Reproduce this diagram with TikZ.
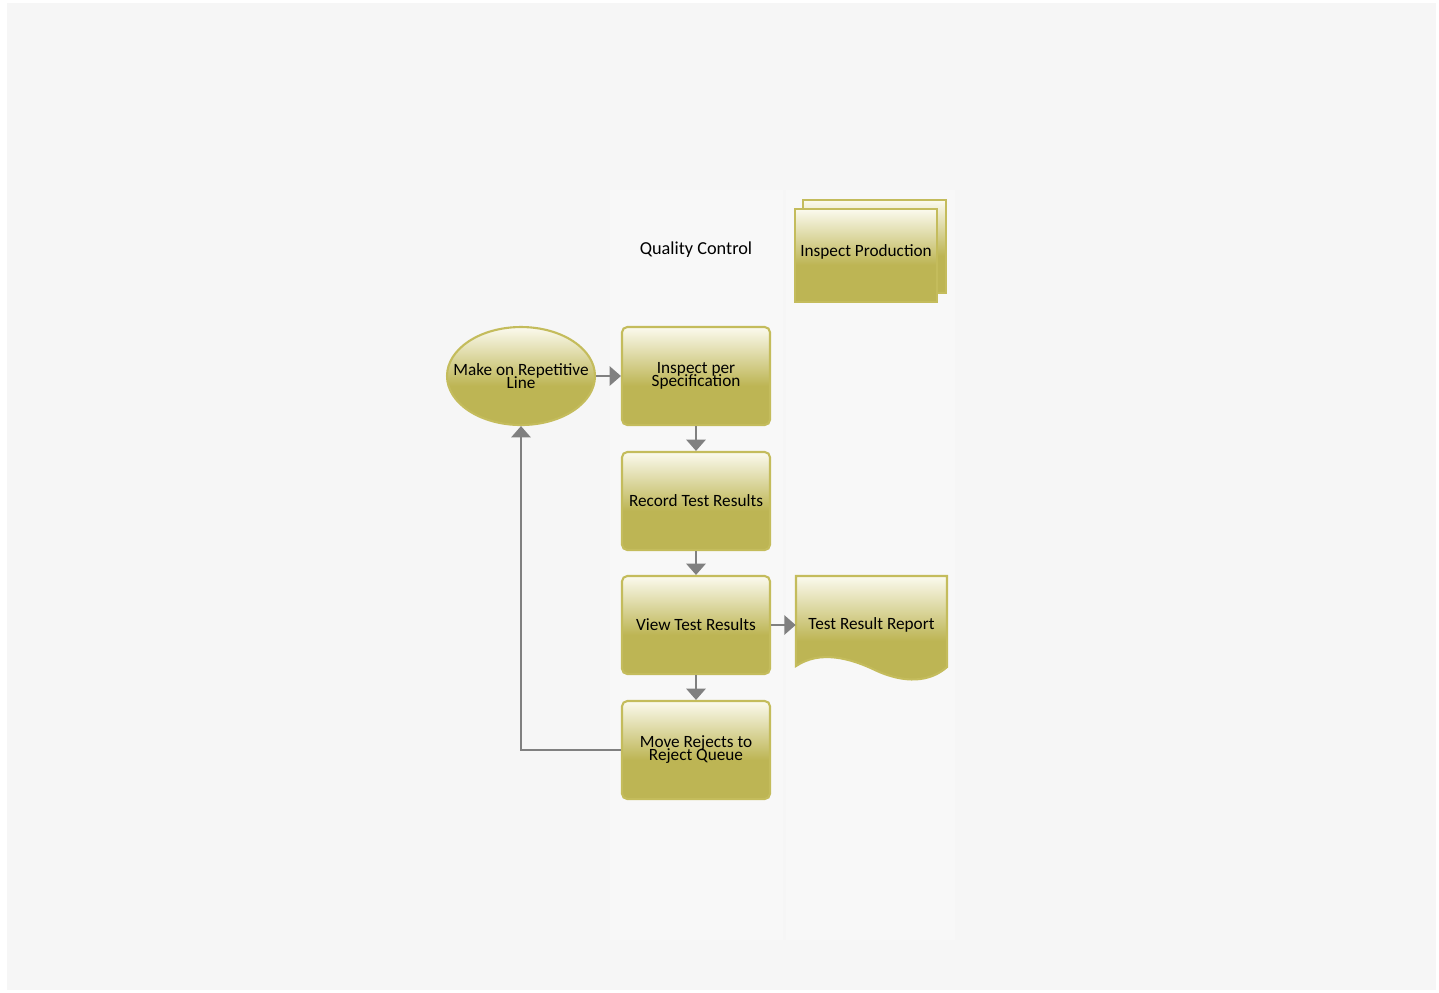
\documentclass[tikz,border=0pt]{standalone}
\usepackage{fontspec}
\setmainfont{Carlito}
\usetikzlibrary{positioning}
\usetikzlibrary{shapes.geometric, arrows.meta}

\definecolor{pagegray}{RGB}{246,246,246}
\definecolor{lanegray}{RGB}{248,248,248}
\definecolor{olivedark}{RGB}{189,181,84}
\definecolor{olivelight}{RGB}{251,250,238}
\definecolor{oliveedge}{RGB}{196,188,92}
\definecolor{flowgray}{RGB}{128,128,128}

\newcommand\shapefont{\fontsize{9.8}{7.4}\selectfont\lineskiplimit=-10pt\relax}

\pgfdeclareverticalshading{olivefade}{100bp}{color(0bp)=(olivedark); color(25bp)=(olivedark); color(45bp)=(olivedark); color(75bp)=(olivelight); color(100bp)=(olivelight)}

\tikzset{
  shapetext/.style={font=\shapefont, align=center, inner sep=0.5pt},
  procbox/.style={shapetext, draw=oliveedge, line width=1.2pt, shading=olivefade, rounded corners=3pt, minimum width=2.96cm, minimum height=1.96cm},
  startoval/.style={ellipse, draw=oliveedge, line width=1.2pt, shading=olivefade, minimum width=2.96cm, minimum height=1.96cm, inner sep=0pt},
  docfill/.style={draw=oliveedge, line width=1.2pt, shading=olivefade},
  doctext/.style={shapetext, minimum width=3.02cm, minimum height=1.96cm},
  lanetitle/.style={font=\fontsize{10.4}{10}\selectfont, inner sep=1pt},
  flow/.style={draw=flowgray, line width=1.4pt, -{Triangle[width=11pt,length=6.5pt]}}
}

\begin{document}
\begin{tikzpicture}[x=0.02cm, y=-0.02cm]
\useasboundingbox (0,0) rectangle (1439,992);
\fill[white] (0,0) rectangle (1439,992);
\fill[pagegray] (7,3) rectangle (1436,990);
\fill[lanegray] (610,190) rectangle (783,940);
\fill[lanegray] (786,190) rectangle (955,940);

\node[lanetitle] (qctitle) at (696,250) {Quality Control};

\fill[docfill] (803,200) rectangle (946,293);
\node[doctext, docfill, minimum width=2.84cm, minimum height=1.86cm, text depth=5.5pt] (inspprod) at (866,255.5) {Inspect Production};

\node[startoval, label={[shapetext]center:Make on Repetitive\\Line}] (make) at (521,376) {};
\node[procbox] (inspect) at (696,376) {Inspect per\\Specification};
\node[procbox] (record) at (696,501) {Record Test Results};
\node[procbox] (view) at (696,625) {View Test Results};
\node[procbox] (move) at (696,750) {Move Rejects to\\Reject Queue};

\fill[docfill] (796,576) -- (947,576) -- (947,667)
  .. controls (930,682) and (905,684) .. (875,670)
  .. controls (850,658) and (820,650) .. (796,666) -- cycle;
\node[doctext] (report) at (871.5,625) {Test Result Report};

\draw[flow] (make) -- (inspect);
\draw[flow] (inspect) -- (record);
\draw[flow] (record) -- (view);
\draw[flow] (view) -- (move);
\draw[flow] (view) -- (report);
\draw[flow] (move.west) -| (make.south);
\end{tikzpicture}
\end{document}
